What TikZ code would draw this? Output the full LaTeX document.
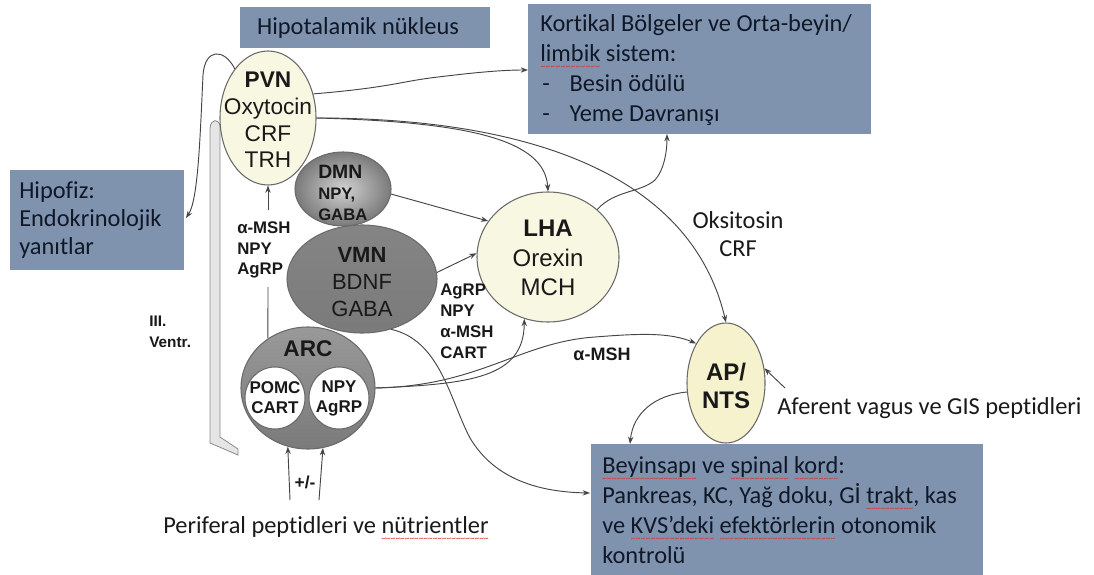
\documentclass[tikz,border=0pt]{standalone}
\usepackage{fontspec}
\setmainfont[Ligatures=NoCommon]{Carlito}
\newfontfamily\arialf{Liberation Sans}
\usetikzlibrary{shapes.geometric,arrows.meta}
\definecolor{boxblue}{HTML}{7F93AE}
\definecolor{boxtext}{HTML}{101828}
\definecolor{cream}{HTML}{F8F7E2}
\definecolor{apyellow}{HTML}{F6F2CE}
\definecolor{edge}{HTML}{6A6A6A}
\definecolor{conn}{HTML}{454545}
\definecolor{txt}{HTML}{1A1A1A}
\definecolor{squig}{HTML}{E03030}
\newcommand\sq[1]{\setbox0=\hbox{#1}\rlap{\raisebox{-6pt}[0pt][0pt]{\color{squig}\hbox to \wd0{\xleaders\hbox{\fontsize{7}{7}\selectfont\char"7E}\hfil}}}\box0\relax}
\tikzset{
  bx/.style={fill=boxblue, draw=none, inner sep=0, anchor=north west},
  btxt/.style={text=boxtext, font=\fontsize{18.3}{22.5}\selectfont, inner sep=0, align=left, anchor=west},
  ptxt/.style={text=txt, font=\fontsize{18.3}{21}\selectfont, inner sep=0},
  cr/.style={ellipse, draw=edge, line width=0.8pt, fill=cream, inner sep=0},
  grv/.style={ellipse, draw=edge, line width=0.8pt, inner sep=0, top color=#1, middle color=white!88!black, bottom color=black!52},
  wc/.style={ellipse, draw=edge, line width=0.8pt, fill=white, inner sep=0},
  lab/.style={text=black!90, inner sep=0, align=center},
  blab/.style={text=black!90, inner sep=0, align=left, anchor=west, font=\arialf\bfseries\fontsize{12.6}{15.6}\selectfont},
  con/.style={draw=conn, line width=0.7pt},
  arr/.style={con, -{Stealth[length=5.5pt,width=4pt]}},
}
\begin{document}
\begin{tikzpicture}[x=0.75pt,y=-0.75pt]
\useasboundingbox (0,0) rectangle (1094,574);
\fill[white] (0,0) rectangle (1094,574);

% ventricle
\fill[black!10] (220,437) -- (220,126) .. controls (219,119) and (211,118) .. (210,128) -- (210,443) -- (238,455) -- (238,449) -- cycle;
\draw[black!45, line width=0.6pt] (220,126) -- (220,437) -- (238,449) -- (238,455) -- (210,443) -- (210,128) .. controls (211,118) and (219,119) .. (220,126);

% boxes
\node[bx, minimum width=250*0.75pt, minimum height=41*0.75pt] (hipo) at (240,7) {};
\node[bx, minimum width=343*0.75pt, minimum height=130*0.75pt] (kort) at (528,4) {};
\node[bx, minimum width=174*0.75pt, minimum height=100*0.75pt] (hipof) at (10,170) {};
\node[bx, minimum width=392*0.75pt, minimum height=131*0.75pt] (beyin) at (591,444) {};

\node[btxt, anchor=center] (hipot) at (358,28) {Hipotalamik nükleus};
\node[btxt] (kortt) at (540,70) {Kortikal Bölgeler ve Orta-beyin/\\\sq{limbik} sistem:\\\hspace*{1.5pt}\makebox[20.5pt][l]{-}Besin ödülü\\\hspace*{1.5pt}\makebox[20.5pt][l]{-}Yeme Davranışı};
\node[btxt, font=\fontsize{18.3}{21}\selectfont] (hipoft) at (19,220) {Hipofiz:\\Endokrinolojik\\yanıtlar};
\node[btxt] (beyint) at (602,510) {\sq{Beyinsapı} ve \sq{spinal} \sq{kord}:\\Pankreas, KC, Yağ doku, Gİ \sq{trakt}, kas\\ve \sq{KVS’deki} \sq{efektörlerin} otonomik\\kontrolü};

% plain texts
\node[ptxt, align=center] (oks) at (738,234) {Oksitosin\\CRF};
\node[ptxt, anchor=west] (afer) at (777,408) {Aferent vagus ve GIS peptidleri};
\node[ptxt] (peri) at (326,527) {Periferal peptidleri ve \sq{nütrientler}};

% nuclei
\node[cr, minimum width=96*0.75pt, minimum height=134*0.75pt] (pvn) at (268,118) {};
\node[grv=black!48, minimum width=150*0.75pt, minimum height=108*0.75pt] (vmn) at (362,279) {};
\node[ellipse, draw=edge, line width=0.8pt, inner sep=0, inner color=black!18, outer color=black!52, minimum width=96*0.75pt, minimum height=74*0.75pt] (dmn) at (343,189) {};
\node[grv=black!40, minimum width=134*0.75pt, minimum height=122*0.75pt] (arc) at (308,388) {};
\node[wc, minimum width=60*0.75pt, minimum height=62*0.75pt] (pomc) at (275,398) {};
\node[wc, minimum width=60*0.75pt, minimum height=62*0.75pt] (npy) at (339,398) {};
\node[cr, minimum width=142*0.75pt, minimum height=130*0.75pt] (lha) at (548,257) {};
\node[cr, fill=apyellow, minimum width=78*0.75pt, minimum height=120*0.75pt] (ap) at (726,383) {};

% nucleus texts
\node[lab, font=\arialf\fontsize{17}{20}\selectfont] (pvnt) at (268,120) {\textbf{PVN}\\Oxytocin\\CRF\\TRH};
\node[lab, align=left, anchor=west, font=\arialf\bfseries\fontsize{12.5}{15.5}\selectfont] (dmnt) at (318,193) {{\fontsize{14.5}{15.5}\selectfont DMN}\\NPY,\\GABA};
\node[lab, font=\arialf\fontsize{16.5}{20}\selectfont] (vmnt) at (362,282) {\textbf{VMN}\\BDNF\\GABA};
\node[lab, font=\arialf\bfseries\fontsize{17}{20}\selectfont] (arct) at (308,349) {ARC};
\node[lab, font=\arialf\bfseries\fontsize{12.75}{15}\selectfont] (pomct) at (275,398) {POMC\\CART};
\node[lab, font=\arialf\bfseries\fontsize{12.75}{15}\selectfont] (npyt) at (339,398) {NPY\\AgRP};
\node[lab, font=\arialf\fontsize{18}{22}\selectfont] (lhat) at (548,258) {\textbf{LHA}\\Orexin\\MCH};
\node[lab, font=\arialf\bfseries\fontsize{18}{21}\selectfont] (apt) at (726,386) {AP/\\NTS};

% labels
\node[blab] (lbl1) at (237,250) {α-MSH\\NPY\\AgRP};
\node[blab, font=\arialf\bfseries\fontsize{12.6}{15.75}\selectfont] (lbl2) at (440,321) {AgRP\\NPY\\α-MSH\\CART};
\node[lab, font=\arialf\bfseries\fontsize{13.5}{16}\selectfont] (lbl3) at (602,354) {α-MSH};
\node[blab, font=\arialf\bfseries\fontsize{11.5}{15.75}\selectfont] (ventr) at (149,332) {III.\\Ventr.};
\node[lab, font=\arialf\bfseries\fontsize{13}{15}\selectfont] (pm) at (305,482) {+/-};

% coordinates
\coordinate (k1) at (528,70);
\coordinate (k2) at (667,134);
\coordinate (h1) at (186,218);
\coordinate (b1) at (630,444);
\coordinate (b2) at (590,493);
\coordinate (f1) at (290,500);
\coordinate (f2) at (319,500);
\coordinate (f3) at (785,388);
\coordinate (a1) at (268,287);
\coordinate (a2) at (268,210);

% connectors
\draw[arr] (pvn.28) .. controls (385,88) and (400,82) .. (430,78) .. controls (470,73) and (500,70) .. (k1);
\draw[arr] (pvn.east) .. controls (470,122) and (545,140) .. (lha.north);
\draw[arr] (pvn.east) .. controls (520,118) and (690,170) .. (ap.north);
\draw[arr] (pvn.124) .. controls (224,48) and (205,48) .. (203,75) .. controls (200,140) and (198,200) .. (h1);
\draw[arr] (dmn.-6) -- (lha.149);
\draw[arr] (vmn.5) -- (lha.177);
\draw[arr] (lha.44) .. controls (615,190) and (640,193) .. (655,180) .. controls (664,170) and (667,152) .. (k2);
\draw[con] (arc.129) -- (a1);
\draw[arr] (a2) -- (pvn.south);
\draw[arr] (arc.east) .. controls (470,384) and (524,378) .. (lha.-111);
\draw[arr] (arc.east) .. controls (480,386) and (520,342) .. (595,337) .. controls (645,333) and (670,333) .. (ap.127);
\draw[arr] (vmn.-60) .. controls (440,340) and (450,400) .. (470,438) .. controls (495,480) and (540,492) .. (b2);
\draw[arr] (ap.193) .. controls (655,395) and (633,413) .. (b1);
\draw[arr] (f3) -- (ap.21);
\draw[arr] (f1) -- (arc.-109);
\draw[arr] (f2) -- (arc.-76);
\end{tikzpicture}
\end{document}
